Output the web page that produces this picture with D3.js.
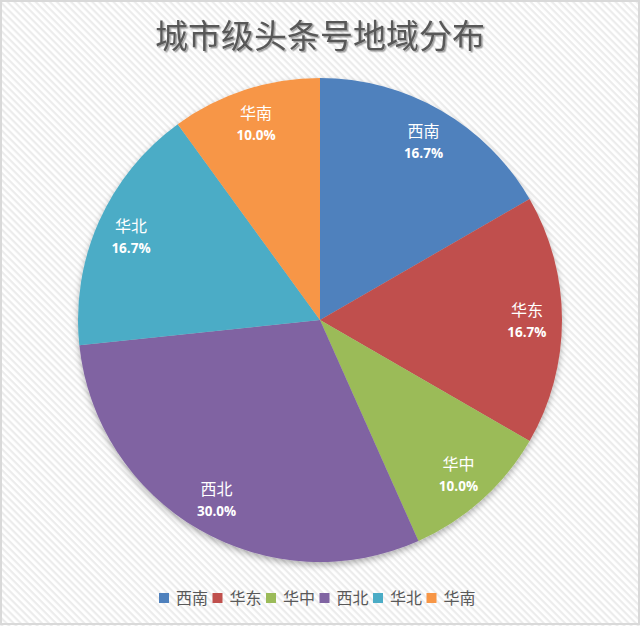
<!DOCTYPE html>
<html>
<head>
<meta charset="utf-8">
<script src="https://cdn.jsdelivr.net/npm/d3@7"></script>
<style>
  html, body { margin: 0; padding: 0; background: #fff; }
  #chart { width: 640px; height: 626px; }
</style>
</head>
<body>
<div id="chart"></div>
<script>
// Chart data
const categories = ['西南', '华东', '华中', '西北', '华北', '华南'];
const counts = [5, 5, 3, 9, 5, 3];
const colors = ['#4F81BD', '#C0504D', '#9BBB59', '#8064A2', '#4BACC6', '#F79646'];
const title = '城市级头条号地域分布';

const width = 640, height = 626;
const cx = 320, cy = 320, radius = 242;

const svg = d3.select('#chart')
    .append('svg')
    .attr('width', width)
    .attr('height', height);

const defs = svg.append('defs');

// Diagonal stripe background
const pattern = defs.append('pattern')
    .attr('id', 'stripes')
    .attr('patternUnits', 'userSpaceOnUse')
    .attr('width', 5)
    .attr('height', 5)
    .attr('patternTransform', 'rotate(45)');
pattern.append('rect').attr('width', 5).attr('height', 5).attr('fill', '#ffffff');
pattern.append('rect').attr('width', 5).attr('height', 2.2).attr('fill', '#ececec');

// Soft shadow under the pie
const shadow = defs.append('filter')
    .attr('id', 'pieShadow')
    .attr('x', '-10%').attr('y', '-10%')
    .attr('width', '120%').attr('height', '120%');
shadow.append('feDropShadow')
    .attr('dx', 0).attr('dy', 3)
    .attr('stdDeviation', 3)
    .attr('flood-color', '#000')
    .attr('flood-opacity', 0.3);

const titleShadow = defs.append('filter').attr('id', 'titleShadow');
titleShadow.append('feDropShadow')
    .attr('dx', 1.5).attr('dy', 1.5)
    .attr('stdDeviation', 0.6)
    .attr('flood-color', '#000')
    .attr('flood-opacity', 0.35);

// Background and border
svg.append('rect')
    .attr('width', width)
    .attr('height', height)
    .attr('fill', 'url(#stripes)');
svg.append('rect')
    .attr('x', 1).attr('y', 1)
    .attr('width', width - 2).attr('height', height - 3)
    .attr('fill', 'none')
    .attr('stroke', '#d9d9d9')
    .attr('stroke-width', 2);

// Title
svg.append('text')
    .attr('x', cx)
    .attr('y', 48)
    .attr('text-anchor', 'middle')
    .attr('filter', 'url(#titleShadow)')
    .style('font-family', '"Noto Sans CJK SC", sans-serif')
    .style('font-size', '33px')
    .style('fill', '#595959')
    .text(title);

// Pie
const total = d3.sum(counts);
const pie = d3.pie().sort(null).value(d => d)(counts);
const arc = d3.arc().innerRadius(0).outerRadius(radius);
const labelArc = d3.arc().innerRadius(radius * 0.855).outerRadius(radius * 0.855);

const g = svg.append('g').attr('transform', `translate(${cx},${cy})`);

g.append('g')
    .attr('filter', 'url(#pieShadow)')
    .selectAll('path')
    .data(pie)
    .join('path')
    .attr('d', arc)
    .attr('fill', (d, i) => colors[i]);

const labels = g.append('g')
    .selectAll('g')
    .data(pie)
    .join('g')
    .attr('transform', d => `translate(${labelArc.centroid(d)})`);

labels.append('text')
    .attr('y', -4)
    .attr('text-anchor', 'middle')
    .style('font-family', '"Noto Sans CJK SC", sans-serif')
    .style('font-size', '16px')
    .style('fill', '#fff')
    .text((d, i) => categories[i]);

labels.append('text')
    .attr('y', 17)
    .attr('text-anchor', 'middle')
    .style('font-family', '"Open Sans", "DejaVu Sans", sans-serif')
    .style('font-size', '13.5px')
    .style('font-weight', 'bold')
    .style('fill', '#fff')
    .text(d => (d.data / total * 100).toFixed(1) + '%');

// Legend
const itemWidth = 53.5;
const legendX = 159;
const legend = svg.append('g')
    .attr('transform', `translate(${legendX},598)`);

const items = legend.selectAll('g')
    .data(categories)
    .join('g')
    .attr('transform', (d, i) => `translate(${i * itemWidth},0)`);

items.append('rect')
    .attr('x', 0).attr('y', -5)
    .attr('width', 10).attr('height', 10)
    .attr('fill', (d, i) => colors[i]);

items.append('text')
    .attr('x', 17)
    .attr('y', 6)
    .style('font-family', '"Noto Sans CJK SC", sans-serif')
    .style('font-size', '16px')
    .style('fill', '#595959')
    .text(d => d);
</script>
</body>
</html>
